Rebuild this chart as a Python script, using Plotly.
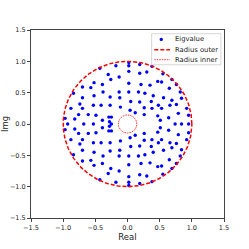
import numpy as np
import plotly.graph_objects as go

# Eigenvalues (upper half-plane, lower half-plane, real axis)
upper_re = [-0.18, -0.43, -0.30, -0.26, -0.13, -0.52, -0.39, -0.57, -0.70, -0.38, -0.13, -0.84, -0.70,
            -0.52, -0.27, -0.12, -0.41, -0.53, -0.88, -0.74, -0.70, -0.27, -0.11, -0.76, -0.61, -0.49,
            -0.29, -0.25, -0.97, -0.82, -0.39, -0.28,
            0.02, 0.02, 0.19, 0.38, 0.02, 0.19, 0.30, 0.47, 0.53, 0.69, 0.76, 0.02, 0.21, 0.35, 0.65,
            0.82, 0.02, 0.17, 0.27, 0.40, 0.56, 0.69, 0.84, 0.05, 0.19, 0.37, 0.48, 0.66, 0.76, 0.92,
            0.04, 0.26, 0.38, 0.53, 0.79, 0.95, 0.12, 0.26, 0.47, 0.51, 0.64, 0.55]
upper_im = [0.93, 0.89, 0.79, 0.71, 0.75, 0.66, 0.63, 0.58, 0.59, 0.51, 0.51, 0.49, 0.42,
            0.45, 0.43, 0.42, 0.30, 0.30, 0.25, 0.32, 0.25, 0.30, 0.27, 0.15, 0.15, 0.14,
            0.11, 0.11, 0.09, 0.08, 0.06, 0.035,
            0.98, 0.93, 0.95, 0.92, 0.84, 0.81, 0.83, 0.68, 0.67, 0.71, 0.63, 0.65, 0.63, 0.62, 0.57,
            0.51, 0.51, 0.51, 0.49, 0.45, 0.42, 0.38, 0.41, 0.36, 0.35, 0.36, 0.30, 0.30, 0.31, 0.25,
            0.22, 0.26, 0.25, 0.25, 0.17, 0.14, 0.18, 0.15, 0.13, 0.06, 0.10, 0.80]
lower_re = [-0.18, -0.43, -0.30, -0.26, -0.13, -0.52, -0.39, -0.57, -0.70, -0.38, -0.13, -0.84, -0.70,
            -0.52, -0.27, -0.12, -0.41, -0.53, -0.88, -0.74, -0.70, -0.27, -0.11, -0.76, -0.61, -0.49,
            -0.29, -0.25, -0.97, -0.82, -0.39, -0.28,
            0.02, 0.02, 0.19, 0.38, 0.02, 0.19, 0.30, 0.47, 0.53, 0.69, 0.76, 0.02, 0.21, 0.35, 0.65,
            0.82, 0.02, 0.17, 0.27, 0.40, 0.56, 0.69, 0.84, 0.05, 0.19, 0.37, 0.48, 0.66, 0.76, 0.92,
            0.04, 0.26, 0.38, 0.53, 0.79, 0.95, 0.12, 0.26, 0.47, 0.51, 0.64, 0.55]
lower_im = [-0.93, -0.89, -0.79, -0.71, -0.75, -0.66, -0.63, -0.58, -0.59, -0.51, -0.51, -0.49, -0.42,
            -0.45, -0.43, -0.42, -0.30, -0.30, -0.25, -0.32, -0.25, -0.30, -0.27, -0.15, -0.15, -0.14,
            -0.11, -0.11, -0.09, -0.08, -0.06, -0.035,
            -0.98, -0.93, -0.95, -0.92, -0.84, -0.81, -0.83, -0.68, -0.67, -0.71, -0.63, -0.65, -0.63,
            -0.62, -0.57, -0.51, -0.51, -0.51, -0.49, -0.45, -0.42, -0.38, -0.41, -0.36, -0.35, -0.36,
            -0.30, -0.30, -0.31, -0.25, -0.22, -0.26, -0.25, -0.25, -0.17, -0.14, -0.18, -0.15, -0.13,
            -0.06, -0.10, -0.80]
axis_re = [-0.93, -0.68, -0.53, -0.25, 0.74, 0.84, 0.95]
axis_im = [0.0, 0.0, 0.0, 0.0, 0.0, 0.0, 0.0]

eig_re = upper_re + lower_re + axis_re
eig_im = upper_im + lower_im + axis_im

radius_outer = 1.0
radius_inner = 0.145
tick_vals = [-1.5, -1.0, -0.5, 0.0, 0.5, 1.0, 1.5]
legend_labels = ["Eigvalue", "Radius outer", "Radius inner"]

BLUE = "#0000ff"
RED = "#ff0000"
outer_line = dict(color=RED, width=1.5, dash="4px,2px")
inner_line = dict(color=RED, width=0.8, dash="1.5px,1px")

theta = np.linspace(0, 2 * np.pi, 400)

fig = go.Figure()
fig.add_trace(go.Scatter(x=eig_re, y=eig_im, mode="markers", name=legend_labels[0],
                         marker=dict(color=BLUE, size=3.4, line=dict(width=0))))
fig.add_trace(go.Scatter(x=radius_outer * np.cos(theta), y=radius_outer * np.sin(theta),
                         mode="lines", name=legend_labels[1], line=outer_line))
fig.add_trace(go.Scatter(x=radius_inner * np.cos(theta), y=radius_inner * np.sin(theta),
                         mode="lines", name=legend_labels[2], line=inner_line))

# Compact matplotlib-style legend box (paper coordinates)
box = dict(x0=0.625, x1=0.984, y0=0.815, y1=0.980)
rows = [0.950, 0.895, 0.842]
sample_x0, sample_x1, marker_x, text_x = 0.639, 0.720, 0.675, 0.737

shapes = [dict(type="rect", xref="paper", yref="paper", layer="above",
               fillcolor="rgba(255,255,255,0.85)", line=dict(color="#cccccc", width=0.8), **box)]
mw, mh = 1.7 / 193, 1.7 / 188
shapes.append(dict(type="circle", xref="paper", yref="paper", layer="above",
                   x0=marker_x - mw, x1=marker_x + mw, y0=rows[0] - mh, y1=rows[0] + mh,
                   fillcolor=BLUE, line=dict(width=0)))
shapes.append(dict(type="line", xref="paper", yref="paper", layer="above",
                   x0=sample_x0, x1=sample_x1, y0=rows[1], y1=rows[1], line=outer_line))
shapes.append(dict(type="line", xref="paper", yref="paper", layer="above",
                   x0=sample_x0, x1=sample_x1, y0=rows[2], y1=rows[2], line=inner_line))

annotations = [dict(text=lab, xref="paper", yref="paper", x=text_x, y=yy,
                    xanchor="left", yanchor="middle", showarrow=False,
                    font=dict(family="DejaVu Sans", size=6.8, color="#222222"))
               for lab, yy in zip(legend_labels, rows)]

axis_common = dict(range=[-1.5, 1.5], tickvals=tick_vals, tickformat=".1f",
                   showgrid=False, zeroline=False, showline=True, mirror=True,
                   linecolor="#444444", linewidth=1, ticks="outside", ticklen=3,
                   tickwidth=0.8, tickcolor="#444444", automargin=False,
                   tickfont=dict(family="DejaVu Sans", size=6.5, color="#222222"))

fig.update_layout(
    width=249, height=249,
    margin=dict(l=31, r=25, t=30, b=31, autoexpand=False),
    paper_bgcolor="white", plot_bgcolor="white",
    font=dict(family="DejaVu Sans", color="#222222"),
    xaxis=dict(axis_common, title=dict(text="Real", font=dict(size=8.5), standoff=1)),
    yaxis=dict(axis_common, title=dict(text="Img", font=dict(size=8.5), standoff=1)),
    showlegend=False,
    shapes=shapes,
    annotations=annotations,
)

fig.write_html("out.html", config={"displayModeBar": False},
               post_script="document.body.style.margin='0';document.body.style.padding='0';")
